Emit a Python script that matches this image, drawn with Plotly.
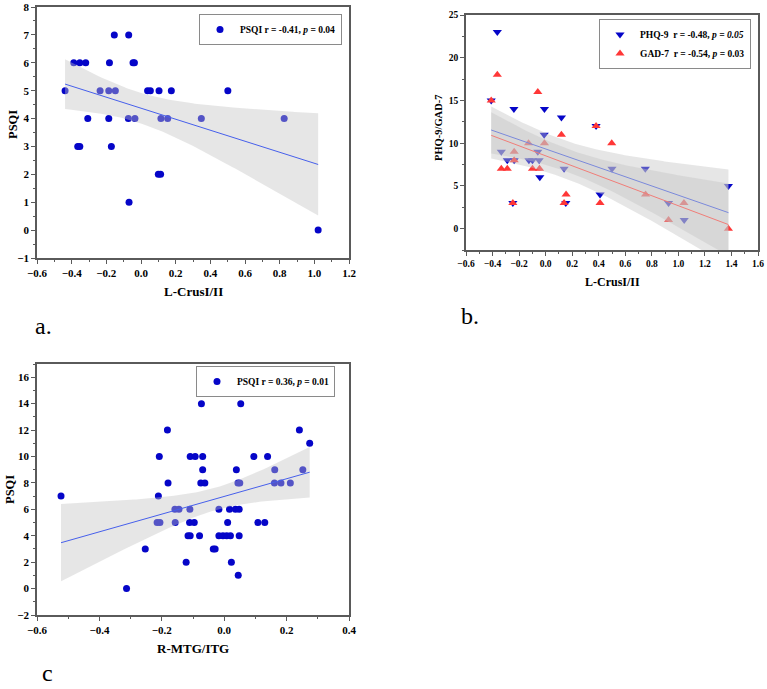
import math
import numpy as np
import plotly.graph_objects as go

# ---------------- data ----------------
# Panel a: L-CrusI/II vs PSQI
a_x = [-0.154, -0.071,
       -0.388, -0.353, -0.319, -0.182, -0.046, -0.038,
       -0.438, -0.236, -0.186, -0.148, 0.038, 0.054, 0.104, 0.175, 0.501,
       -0.307, -0.186, -0.073, -0.035, 0.115, 0.154, 0.348, 0.826,
       -0.365, -0.353, -0.171,
       0.100, 0.113,
       -0.069,
       1.022]
a_y = [7, 7,
       6, 6, 6, 6, 6, 6,
       5, 5, 5, 5, 5, 5, 5, 5, 5,
       4, 4, 4, 4, 4, 4, 4, 4,
       3, 3, 3,
       2, 2,
       1,
       0]

# Panel b: L-CrusI/II vs PHQ-9 and GAD-7
phq_x = [-0.41, -0.364, -0.239, -0.009, 0.119, 0.38, -0.011, -0.334, -0.289, -0.237,
         -0.126, -0.099, -0.059, -0.049, -0.044, 0.139, 0.5, 0.751, -0.247, 0.152,
         0.41, 0.926, 1.044, 1.377]
phq_y = [15, 23, 14, 14, 13, 12, 11, 9, 8, 8,
         8, 8, 9, 8, 6, 7, 7, 7, 3, 3,
         4, 3, 1, 5]
gad_x = [-0.41, -0.364, -0.059, 0.119, 0.38, 0.498, -0.129, -0.009, -0.237, -0.237,
         -0.334, -0.289, -0.099, -0.046, -0.247, 0.139, 0.154, 0.41, 0.753, 0.926,
         1.042, 1.377]
gad_y = [15, 18, 16, 11, 12, 10, 10, 10, 9, 8,
         7, 7, 7, 7, 3, 3, 4, 3, 4, 1,
         3, 0]

# Panel c: R-MTG/ITG vs PSQI
c_x = [-0.523, 0.167, -0.073, 0.053, -0.182, 0.241, 0.274,
       -0.208, -0.109, -0.093, -0.069, 0.095, 0.139,
       -0.069, 0.039, 0.162, 0.252,
       -0.18, -0.075, -0.062, 0.044, 0.05, 0.161, 0.182, 0.212,
       -0.211,
       -0.158, -0.145, -0.11, -0.017, 0.017, 0.036, 0.048,
       -0.215, -0.206, -0.157, -0.111, -0.096, 0.011, 0.108, 0.13,
       -0.116, -0.109, -0.079, -0.017, -0.004, 0.008, 0.02, 0.048,
       -0.253, -0.035, -0.029,
       -0.122, 0.023,
       0.045,
       -0.313]
c_y = [7, 15, 14, 14, 12, 12, 11,
       10, 10, 10, 10, 10, 10,
       9, 9, 9, 9,
       8, 8, 8, 8, 8, 8, 8, 8,
       7,
       6, 6, 6, 6, 6, 6, 6,
       5, 5, 5, 5, 5, 5, 5, 5,
       4, 4, 4, 4, 4, 4, 4, 4,
       3, 3, 3,
       2, 2,
       1,
       0]

legend_a = "PSQI r = -0.41, <i>p</i> = 0.04"
legend_phq = "PHQ-9\u00a0\u00a0r = -0.48, <i>p = 0.05</i>"
legend_gad = "GAD-7\u00a0\u00a0r = -0.54, <i>p</i> = 0.03"
legend_c = "PSQI r = 0.36, <i>p</i> = 0.01"

# ---------------- helpers ----------------
def t_crit(df, q=0.975):
    xs = np.linspace(0, 30, 300001)
    c = math.exp(math.lgamma((df + 1) / 2) - math.lgamma(df / 2)) / math.sqrt(df * math.pi)
    pdf = c * (1 + xs ** 2 / df) ** (-(df + 1) / 2)
    cdf = 0.5 + np.concatenate([[0], np.cumsum((pdf[1:] + pdf[:-1]) / 2 * np.diff(xs))])
    return float(np.interp(q, cdf, xs))


def fit(x, y):
    x = np.asarray(x, float)
    y = np.asarray(y, float)
    n = len(x)
    b, a = np.polyfit(x, y, 1)
    xs = np.linspace(x.min(), x.max(), 120)
    yh = a + b * xs
    resid = y - (a + b * x)
    s = math.sqrt(float(np.sum(resid ** 2)) / (n - 2))
    xm = x.mean()
    sxx = float(np.sum((x - xm) ** 2))
    se = s * np.sqrt(1 / n + (xs - xm) ** 2 / sxx)
    t = t_crit(n - 2)
    return xs, yh, yh - t * se, yh + t * se


SERIF = "Liberation Serif"
BLUE = "rgb(5,5,200)"
RED = "rgb(255,55,55)"
LINE_BLUE = "rgb(70,95,235)"
LINE_RED = "rgb(240,125,120)"
BAND = "rgba(195,195,195,0.42)"

fig = go.Figure()


def add_fit(x, y, xa, ya, lcol):
    xs, yh, lo, hi = fit(x, y)
    fig.add_trace(go.Scatter(x=np.concatenate([xs, xs[::-1]]), y=np.concatenate([hi, lo[::-1]]),
                             fill="toself", fillcolor=BAND, line=dict(width=0), mode="lines",
                             hoverinfo="skip", showlegend=False, xaxis=xa, yaxis=ya))
    fig.add_trace(go.Scatter(x=xs, y=yh, mode="lines", line=dict(color=lcol, width=1),
                             showlegend=False, hoverinfo="skip", xaxis=xa, yaxis=ya))


# Panel a
fig.add_trace(go.Scatter(x=a_x, y=a_y, mode="markers", name=legend_a,
                         marker=dict(symbol="circle", size=7, color=BLUE),
                         xaxis="x", yaxis="y", legend="legend"))
add_fit(a_x, a_y, "x", "y", LINE_BLUE)

# Panel b
fig.add_trace(go.Scatter(x=phq_x, y=phq_y, mode="markers", name=legend_phq,
                         marker=dict(symbol="triangle-down", size=8, color=BLUE),
                         xaxis="x2", yaxis="y2", legend="legend2"))
fig.add_trace(go.Scatter(x=gad_x, y=gad_y, mode="markers", name=legend_gad,
                         marker=dict(symbol="triangle-up", size=8, color=RED),
                         xaxis="x2", yaxis="y2", legend="legend2"))
add_fit(phq_x, phq_y, "x2", "y2", LINE_BLUE)
add_fit(gad_x, gad_y, "x2", "y2", LINE_RED)

# Panel c
fig.add_trace(go.Scatter(x=c_x, y=c_y, mode="markers", name=legend_c,
                         marker=dict(symbol="circle", size=7, color=BLUE),
                         xaxis="x3", yaxis="y3", legend="legend3"))
add_fit(c_x, c_y, "x3", "y3", LINE_BLUE)

W, H = 767, 689


def px(v):
    return v / W


def py(v):
    return 1 - v / H


def axis(domain, rng, dtick, minor, fsize, tick0=None):
    d = dict(domain=domain, range=rng, dtick=dtick, showgrid=False, zeroline=False,
             showline=True, mirror=True, linecolor="#5a5a5a", linewidth=1.5,
             ticks="outside", ticklen=4, tickwidth=1, tickcolor="#5a5a5a",
             tickfont=dict(family=SERIF, size=fsize, color="black", weight="bold"),
             minor=dict(ticks="outside", ticklen=2.5, dtick=minor, tickcolor="#5a5a5a", tickwidth=1),
             automargin=False, fixedrange=True)
    if tick0 is not None:
        d["tick0"] = tick0
    return d


xa = axis([px(37), px(349)], [-0.6, 1.2], 0.2, 0.1, 11, -0.6)
xa["tickformat"] = ".1f"
ya = axis([py(258), py(7)], [-1, 8], 1, 0.5, 11, 0)
xb = axis([px(466), px(758)], [-0.6, 1.6], 0.2, 0.1, 9.5, -0.6)
xb["tickformat"] = ".1f"
yb = axis([py(250), py(15)], [-2.5, 25], 5, 2.5, 9.5, 0)
xc = axis([px(37), px(349)], [-0.6, 0.4], 0.2, 0.1, 11, -0.6)
xc["tickformat"] = ".1f"
yc = axis([py(615), py(364)], [-2, 17], 2, 1, 11, 0)

xa["anchor"] = "y"; ya["anchor"] = "x"
xb["anchor"] = "y2"; yb["anchor"] = "x2"
xc["anchor"] = "y3"; yc["anchor"] = "x3"


def leg(xr, yt, fs=9.5):
    return dict(x=px(xr), y=py(yt), xanchor="right", yanchor="top", bgcolor="white",
                bordercolor="#8a8a8a", borderwidth=1,
                font=dict(family=SERIF, size=fs, color="black", weight="bold"),
                itemwidth=30, tracegroupgap=0)


fig.update_layout(
    width=W, height=H, autosize=False,
    margin=dict(l=0, r=0, t=0, b=0),
    paper_bgcolor="white", plot_bgcolor="white",
    xaxis=xa, yaxis=ya, xaxis2=xb, yaxis2=yb, xaxis3=xc, yaxis3=yc,
    legend=leg(342, 14), legend2=leg(751, 19), legend3=leg(335, 366),
    showlegend=True,
)


def title(text, x, y, size, angle=0):
    fig.add_annotation(text=f"<b>{text}</b>", x=px(x), y=py(y), xref="paper", yref="paper",
                       showarrow=False, textangle=angle, xanchor="center", yanchor="middle",
                       font=dict(family=SERIF, size=size, color="black"))


title("L-CrusI/II", 193, 292, 13)
title("PSQI", 13, 125, 12.5, -90)
title("L-CrusI/II", 612, 282, 12)
title("PHQ-9/GAD-7", 438, 128, 10.5, -90)
title("R-MTG/ITG", 193, 648, 13)
title("PSQI", 10, 490, 12.5, -90)

for lab, x, y in [("a.", 43, 326), ("b.", 470, 316), ("c", 47, 673)]:
    fig.add_annotation(text=lab, x=px(x), y=py(y), xref="paper", yref="paper", showarrow=False,
                       xanchor="center", yanchor="middle",
                       font=dict(family=SERIF, size=24, color="black"))

fig.write_html("out.html")
